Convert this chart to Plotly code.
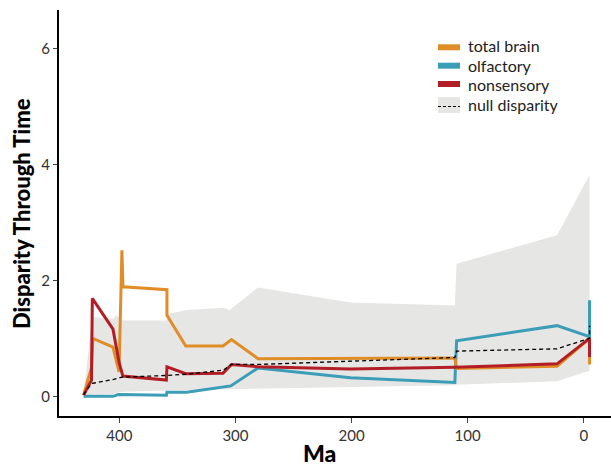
import plotly.graph_objects as go

# Time in millions of years ago (Ma) and disparity values per partition
total_brain_ma = [430.8, 424.0, 422.8, 405.5, 400.3, 397.8, 396.9, 359.0, 359.0, 342.8,
                  310.7, 303.4, 280.5, 111.0, 109.5, 23.0, -5.0, -5.0]
total_brain = [0.02, 0.50, 1.00, 0.85, 0.42, 2.52, 1.89, 1.84, 1.40, 0.87,
               0.87, 0.98, 0.65, 0.66, 0.48, 0.52, 1.00, 0.55]

olfactory_ma = [430.8, 405.5, 401.0, 359.5, 359.0, 342.0, 304.0, 280.5, 201.0, 111.0,
                109.5, 23.0, -5.0, -5.0]
olfactory = [0.00, 0.00, 0.03, 0.02, 0.07, 0.07, 0.18, 0.49, 0.32, 0.24,
             0.96, 1.22, 1.03, 1.66]

nonsensory_ma = [430.8, 424.0, 423.3, 405.5, 400.3, 397.0, 359.5, 359.0, 342.8, 310.7,
                 303.4, 280.5, 201.0, 111.0, 23.0, -5.0, -5.0]
nonsensory = [0.02, 0.28, 1.69, 1.16, 0.59, 0.35, 0.28, 0.51, 0.39, 0.40,
              0.55, 0.51, 0.47, 0.50, 0.56, 1.00, 0.68]

null_ma = [430.8, 424.0, 405.5, 398.0, 359.5, 342.8, 310.7, 303.4, 280.5, 111.0,
           109.5, 23.0, -5.0, -5.0]
null_mean = [0.03, 0.22, 0.29, 0.33, 0.36, 0.38, 0.45, 0.55, 0.55, 0.67,
             0.78, 0.82, 1.00, 1.22]

band_ma = [430.8, 423.3, 405.5, 402.6, 397.0, 359.5, 356.6, 342.0, 310.7, 305.0,
           280.5, 201.0, 111.0, 109.5, 23.0, -5.0]
band_hi = [0.05, 1.37, 1.34, 1.40, 1.31, 1.31, 1.43, 1.49, 1.53, 1.49,
           1.88, 1.62, 1.57, 2.29, 2.78, 3.82]
band_lo = [0.00, 0.03, 0.04, 0.06, 0.08, 0.09, 0.10, 0.11, 0.12, 0.12,
           0.14, 0.16, 0.19, 0.20, 0.26, 0.44]

x_ticks = [400, 300, 200, 100, 0]
y_ticks = [0, 2, 4, 6]

legend_names = ["total brain", "olfactory", "nonsensory", "null disparity"]

ORANGE = "#E08D28"
BLUE = "#3C9DB6"
RED = "#B21E25"
BAND = "#E6E6E5"
FONT = "Lato"

W, H = 611, 466
ML, MR, MT, MB = 59, 0, 10, 50

fig = go.Figure()

# null disparity envelope
fig.add_trace(go.Scatter(x=band_ma, y=band_hi, mode="lines", line=dict(width=0),
                         hoverinfo="skip", showlegend=False))
fig.add_trace(go.Scatter(x=band_ma, y=band_lo, mode="lines", line=dict(width=0),
                         fill="tonexty", fillcolor=BAND, hoverinfo="skip", showlegend=False))

fig.add_trace(go.Scatter(x=olfactory_ma, y=olfactory, mode="lines", name="olfactory",
                         line=dict(color=BLUE, width=3), showlegend=False))
fig.add_trace(go.Scatter(x=total_brain_ma, y=total_brain, mode="lines", name="total brain",
                         line=dict(color=ORANGE, width=3), showlegend=False))
fig.add_trace(go.Scatter(x=nonsensory_ma, y=nonsensory, mode="lines", name="nonsensory",
                         line=dict(color=RED, width=3), showlegend=False))
fig.add_trace(go.Scatter(x=null_ma, y=null_mean, mode="lines", name="null disparity",
                         line=dict(color="black", width=1.3, dash="4px,3px"), showlegend=False))

# key drawn in paper coordinates
pw = W - ML - MR
ph = H - MT - MB


def px_x(px):
    return (px - ML) / pw


def px_y(py):
    return (H - MB - py) / ph


shapes = []
annotations = []
sw_x0, sw_x1 = px_x(438), px_x(460)
swatch_rows = [47.3, 65.7, 84.0, 105.0]
text_rows = [45.8, 65.2, 84.6, 104.0]
for color, yy in zip([ORANGE, BLUE, RED], swatch_rows[:3]):
    shapes.append(dict(type="line", xref="paper", yref="paper", x0=sw_x0, x1=sw_x1,
                       y0=px_y(yy), y1=px_y(yy), line=dict(color=color, width=6)))
shapes.append(dict(type="rect", xref="paper", yref="paper", x0=sw_x0, x1=sw_x1,
                   y0=px_y(swatch_rows[3] + 8), y1=px_y(swatch_rows[3] - 8), fillcolor=BAND,
                   line=dict(width=0)))
shapes.append(dict(type="line", xref="paper", yref="paper", x0=sw_x0, x1=sw_x1,
                   y0=px_y(swatch_rows[3] + 1.5), y1=px_y(swatch_rows[3] + 1.5),
                   line=dict(color="black", width=1.2, dash="3px,2px")))
for name, yy in zip(legend_names, text_rows):
    annotations.append(dict(text=name, xref="paper", yref="paper", x=px_x(467), y=px_y(yy),
                            xanchor="left", yanchor="middle", showarrow=False, borderpad=0,
                            font=dict(family=FONT, size=16, color="#222")))

# axis titles
annotations.append(dict(text="Ma", xref="paper", yref="paper", x=px_x(319), y=px_y(453),
                        xanchor="center", yanchor="middle", showarrow=False,
                        font=dict(family=FONT, size=23, color="black", weight=900)))
annotations.append(dict(text="Disparity Through Time", xref="paper", yref="paper",
                        x=px_x(21), y=px_y(214), xanchor="center", yanchor="middle",
                        textangle=-90, showarrow=False,
                        font=dict(family=FONT, size=22, color="black", weight=900)))

fig.update_layout(
    width=W, height=H,
    margin=dict(l=ML, r=MR, t=MT, b=MB),
    paper_bgcolor="white", plot_bgcolor="white",
    font=dict(family=FONT, size=15, color="#333"),
    shapes=shapes, annotations=annotations,
    showlegend=False,
)
fig.update_xaxes(range=[452, -23.5], tickvals=x_ticks, ticktext=[str(v) for v in x_ticks],
                 showline=True, linecolor="black", linewidth=2, ticks="outside", ticklen=5,
                 tickcolor="#444", tickwidth=1.3, showgrid=False, zeroline=False,
                 tickfont=dict(family=FONT, size=15, color="#333"))
fig.update_yaxes(range=[-0.34, 6.67], tickvals=y_ticks, showline=True, linecolor="black",
                 linewidth=2, ticks="outside", ticklen=4, tickcolor="#444", tickwidth=1.3,
                 showgrid=False, zeroline=False,
                 tickfont=dict(family=FONT, size=15, color="#333"))

fig.write_html("out.html")
